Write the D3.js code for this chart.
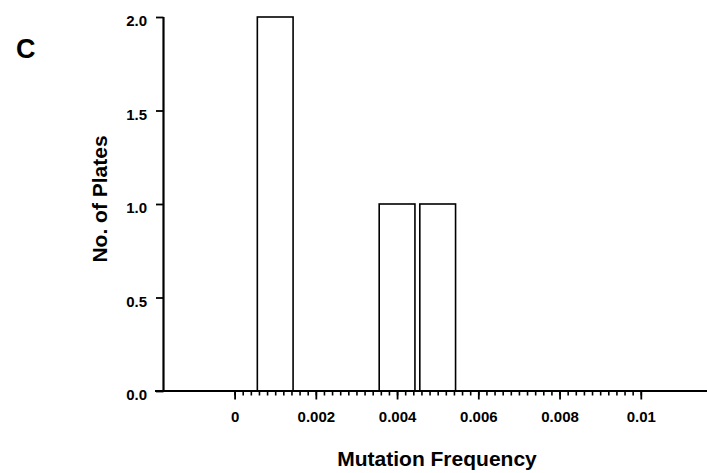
<!DOCTYPE html>
<html>
<head>
<meta charset="utf-8">
<script src="https://cdn.jsdelivr.net/npm/d3@7"></script>
<style>
    body { margin: 0; background: #fff; }
    svg text { font-family: "Liberation Sans", Arial, Helvetica, sans-serif; font-weight: bold; fill: #000; }
</style>
</head>
<body>
<svg id="svg" width="707" height="473"></svg>
<script>
// histogram bins (centre of bin) and how many plates fell in each
let binCentres = [0.001, 0.004, 0.005];
let plateCounts = [2, 1, 1];
let binWidth = 0.00088;

let xTickValues = [0, 0.002, 0.004, 0.006, 0.008, 0.01];
let xTickLabels = ["0", "0.002", "0.004", "0.006", "0.008", "0.01"];
let xMinorStep = 0.0002;
let yTickValues = [0, 0.5, 1, 1.5, 2];
let yTickLabels = ["0.0", "0.5", "1.0", "1.5", "2.0"];

let svg = d3.select("#svg");

// Plot area - the x axis runs on past the last tick to the edge of the figure
const plotLeft = 163.5, plotRight = 707, plotTop = 17, plotBottom = 391;

let xScale = d3.scaleLinear()
    .domain([-0.00175, 0.01163])
    .range([plotLeft, plotRight]);

let yScale = d3.scaleLinear()
    .domain([0, 2])
    .range([plotBottom, plotTop]);

let data = binCentres.map((c, i) => ({ centre: c, count: plateCounts[i] }));

// Bars - open white boxes with a black outline
svg.selectAll(".bar")
    .data(data)
    .enter().append("rect")
    .attr("class", "bar")
    .attr("x", d => xScale(d.centre - binWidth / 2))
    .attr("y", d => yScale(d.count))
    .attr("width", d => xScale(d.centre + binWidth / 2) - xScale(d.centre - binWidth / 2))
    .attr("height", d => yScale(0) - yScale(d.count))
    .attr("fill", "#fff")
    .attr("stroke", "#000")
    .attr("stroke-width", 1.6);

// Minor ticks on the x axis
let minorTicks = d3.range(0, 0.01 + 1e-9, xMinorStep);
let xMinor = svg.append("g")
    .attr("transform", "translate(0," + plotBottom + ")")
    .call(d3.axisBottom(xScale).tickValues(minorTicks).tickSize(4.5).tickFormat(""));
xMinor.select(".domain").remove();
xMinor.selectAll("line").attr("stroke-width", 1.6);

// Major ticks and labels
let xAxis = svg.append("g")
    .attr("transform", "translate(0," + plotBottom + ")")
    .call(d3.axisBottom(xScale)
        .tickValues(xTickValues)
        .tickSize(8.5)
        .tickPadding(12)
        .tickFormat((d, i) => xTickLabels[i]));
xAxis.select(".domain").remove();
xAxis.selectAll("line").attr("stroke-width", 1.8);
xAxis.selectAll("text").style("font-size", "15px").attr("font-family", null);

// x axis line
svg.append("line")
    .attr("x1", 155).attr("x2", plotRight)
    .attr("y1", plotBottom).attr("y2", plotBottom)
    .attr("stroke", "#000")
    .attr("stroke-width", 2.2);

// y axis
let yAxis = svg.append("g")
    .attr("transform", "translate(" + plotLeft + ",0)")
    .call(d3.axisLeft(yScale)
        .tickValues(yTickValues)
        .tickSize(7.5)
        .tickPadding(9)
        .tickFormat((d, i) => yTickLabels[i]));
yAxis.select(".domain").attr("stroke-width", 2.2).attr("d", "M0," + plotTop + "V" + plotBottom);
yAxis.selectAll("line").attr("stroke-width", 1.8);
yAxis.selectAll("text").style("font-size", "15px").attr("font-family", null).attr("dy", "0.58em");

// Axis titles
svg.append("text")
    .attr("x", 437)
    .attr("y", 466)
    .attr("text-anchor", "middle")
    .style("font-size", "21px")
    .text("Mutation Frequency");

svg.append("text")
    .attr("transform", "translate(107,199) rotate(-90)")
    .attr("text-anchor", "middle")
    .style("font-size", "21px")
    .text("No. of Plates");

// Panel letter
svg.append("text")
    .attr("x", 16)
    .attr("y", 58)
    .style("font-size", "27px")
    .text("C");
</script>
</body>
</html>
